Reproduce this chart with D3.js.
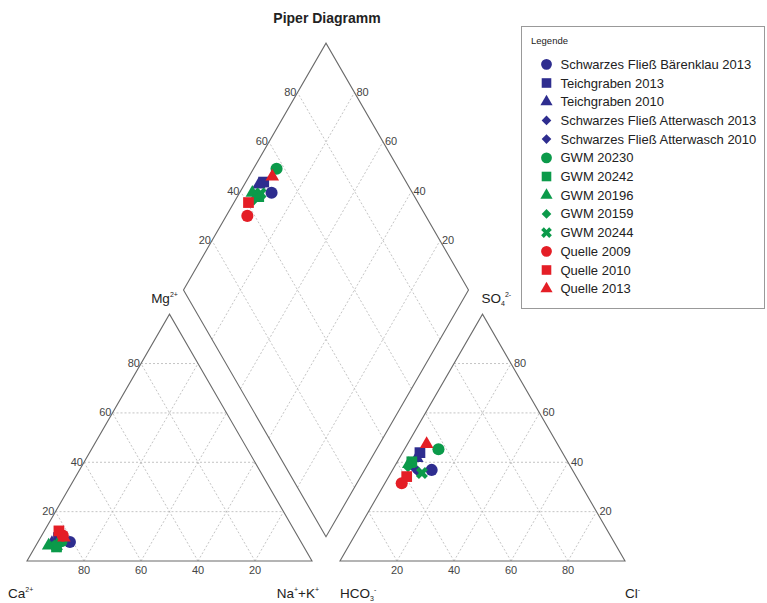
<!DOCTYPE html>
<html>
<head>
<meta charset="utf-8">
<script src="https://cdn.jsdelivr.net/npm/d3@7"></script>
<style>
  body { margin: 0; background: #fff; }
  svg { font-family: "Liberation Sans", Arial, sans-serif; }
</style>
</head>
<body>
<div id="chart"></div>
<script>
// sample names, symbol and colour per sample (legend order = draw order)
const samples = [
  "Schwarzes Fließ Bärenklau 2013", "Teichgraben 2013", "Teichgraben 2010",
  "Schwarzes Fließ Atterwasch 2013", "Schwarzes Fließ Atterwasch 2010",
  "GWM 20230", "GWM 20242", "GWM 20196", "GWM 20159", "GWM 20244",
  "Quelle 2009", "Quelle 2010", "Quelle 2013"
];
const shapes = ["circle", "square", "triangle", "diamond", "diamond",
  "circle", "square", "triangle", "diamond", "cross",
  "circle", "square", "triangle"];
const groups = ["blue", "blue", "blue", "blue", "blue",
  "green", "green", "green", "green", "green",
  "red", "red", "red"];

// cations, % meq
const ca  = [81.1, 84.2, 87.6, 86.6, 85.0, 83.9, 86.8, 89.3, 87.0, 86.5, 82.3, 82.7, 82.3];
const mg  = [ 7.7,  9.5,  7.3,  7.0,  8.0,  8.0,  5.7,  6.2,  6.5,  6.0, 10.3, 12.2,  9.5];
const nak = [11.2,  6.3,  5.1,  6.4,  7.0,  8.1,  7.5,  4.5,  6.5,  7.5,  7.4,  5.1,  8.2];
// anions, % meq
const hco3 = [49.4, 50.0, 52.2, 54.5, 55.0, 42.8, 54.7, 56.2, 57.1, 53.4, 62.6, 59.5, 45.9];
const so4  = [36.9, 43.9, 41.7, 36.2, 37.5, 45.3, 40.2, 39.3, 38.1, 35.7, 31.5, 34.2, 47.4];
const cl   = [13.7,  6.1,  6.1,  9.3,  7.5, 11.9,  5.1,  4.5,  4.8, 10.9,  5.9,  6.3,  6.7];

const gridTicks = [20, 40, 60, 80];

const colors = { blue: "#2e2d8f", green: "#0b9a4a", red: "#e41e26" };

const width = 767, height = 603;
const x0 = 27, side = 285, gap = 28, baseY = 561;
const H = side * Math.sqrt(3) / 2;
const ax0 = x0 + side + gap;
const Bx = x0 + side + gap / 2, By = baseY - gap * Math.sqrt(3) / 2;

// percent -> pixel along the triangle side / height
const sx = d3.scaleLinear().domain([0, 100]).range([0, side]);
const sy = d3.scaleLinear().domain([0, 100]).range([0, H]);

const cation = (m, n) => [x0 + sx(n) + sx(m) / 2, baseY - sy(m)];
const anion = (s, c) => [ax0 + sx(c) + sx(s) / 2, baseY - sy(s)];
// a = Ca+Mg, b = SO4+Cl
const diamond = (a, b) => [Bx + (sx(b) - sx(a)) / 2, By - sy(a) - sy(b)];

const svg = d3.select("#chart").append("svg")
  .attr("width", width).attr("height", height);

const line = d3.line();

// ---- grid ----
const grid = svg.append("g")
  .attr("fill", "none").attr("stroke", "#b5b5b5")
  .attr("stroke-width", 0.8).attr("stroke-dasharray", "2,2");

gridTicks.forEach(v => {
  // cation triangle: Mg = v, Na+K = v, Ca = v
  grid.append("path").attr("d", line([cation(v, 0), cation(v, 100 - v)]));
  grid.append("path").attr("d", line([cation(0, v), cation(100 - v, v)]));
  grid.append("path").attr("d", line([cation(0, 100 - v), cation(100 - v, 0)]));
  // anion triangle: SO4 = v, Cl = v, HCO3 = v
  grid.append("path").attr("d", line([anion(v, 0), anion(v, 100 - v)]));
  grid.append("path").attr("d", line([anion(0, v), anion(100 - v, v)]));
  grid.append("path").attr("d", line([anion(0, 100 - v), anion(100 - v, 0)]));
  // diamond
  grid.append("path").attr("d", line([diamond(v, 0), diamond(v, 100)]));
  grid.append("path").attr("d", line([diamond(0, v), diamond(100, v)]));
});

// ---- outlines ----
const outline = svg.append("g")
  .attr("fill", "none").attr("stroke", "#6a6a6a").attr("stroke-width", 1.1);
outline.append("path").attr("d", line([cation(0, 0), cation(0, 100), cation(100, 0)]) + "Z");
outline.append("path").attr("d", line([anion(0, 0), anion(0, 100), anion(100, 0)]) + "Z");
outline.append("path").attr("d", line([diamond(0, 0), diamond(100, 0), diamond(100, 100), diamond(0, 100)]) + "Z");

// ---- tick labels ----
const ticks = svg.append("g").attr("font-size", 11).attr("fill", "#444");
gridTicks.forEach(v => {
  let p = cation(v, 0);
  ticks.append("text").attr("x", p[0] - 1).attr("y", p[1]).attr("dy", "0.3em")
    .attr("text-anchor", "end").text(v);
  p = cation(0, 100 - v);
  ticks.append("text").attr("x", p[0]).attr("y", baseY + 13)
    .attr("text-anchor", "middle").text(v);
  p = anion(0, v);
  ticks.append("text").attr("x", p[0]).attr("y", baseY + 13)
    .attr("text-anchor", "middle").text(v);
  p = anion(v, 100 - v);
  ticks.append("text").attr("x", p[0] + 3).attr("y", p[1]).attr("dy", "0.3em")
    .attr("text-anchor", "start").text(v);
  p = diamond(100, v);
  ticks.append("text").attr("x", p[0] - 1).attr("y", p[1]).attr("dy", "0.3em")
    .attr("text-anchor", "end").text(v);
  p = diamond(v, 100);
  ticks.append("text").attr("x", p[0] + 2).attr("y", p[1]).attr("dy", "0.3em")
    .attr("text-anchor", "start").text(v);
});

// ---- corner labels ----
function ionLabel(x, y, anchor, parts) {
  const t = svg.append("text").attr("x", x).attr("y", y)
    .attr("text-anchor", anchor).attr("font-size", 13.5).attr("fill", "#222");
  parts.forEach(([txt, kind]) => {
    const sp = t.append("tspan").text(txt);
    if (kind === "sup") sp.attr("font-size", 7).attr("baseline-shift", "6");
    if (kind === "sub") sp.attr("font-size", 7).attr("baseline-shift", "-3");
  });
}
ionLabel(8, 598, "start", [["Ca"], ["2+", "sup"]]);
ionLabel(319, 598, "end", [["Na"], ["+", "sup"], ["+K"], ["+", "sup"]]);
ionLabel(x0 + side / 2 - 5, 303, "middle", [["Mg"], ["2+", "sup"]]);
ionLabel(ax0, 598, "start", [["HCO"], ["3", "sub"], ["-", "sup"]]);
ionLabel(ax0 + side, 598, "start", [["Cl"], ["-", "sup"]]);
ionLabel(ax0 + side / 2 - 1, 303, "start", [["SO"], ["4", "sub"], ["2-", "sup"]]);

// title
svg.append("text").attr("x", 327).attr("y", 23).attr("text-anchor", "middle")
  .attr("font-size", 14).attr("font-weight", "bold").attr("fill", "#222")
  .text("Piper Diagramm");

// ---- symbols ----
function symbolPath(shape, scale) {
  const k = scale || 1;
  if (shape === "circle") return d3.symbol(d3.symbolCircle, 115 * k)();
  if (shape === "square") return d3.symbol(d3.symbolSquare, 115 * k)();
  if (shape === "triangle") return d3.symbol(d3.symbolTriangle, 80 * k)();
  if (shape === "diamond") return d3.symbol(d3.symbolSquare, 58 * k)();
  return d3.symbol(d3.symbolCross, 90 * k)();
}
const rotate = shape => (shape === "diamond" || shape === "cross") ? " rotate(45)" : "";

const pts = samples.map((name, i) => ({
  name, shape: shapes[i], color: colors[groups[i]],
  c: cation(mg[i], nak[i]),
  a: anion(so4[i], cl[i]),
  d: diamond(ca[i] + mg[i], so4[i] + cl[i])
}));

["c", "a", "d"].forEach(key => {
  svg.append("g").selectAll("path")
    .data(pts)
    .join("path")
    .attr("d", d => symbolPath(d.shape))
    .attr("fill", d => d.color)
    .attr("transform", d => `translate(${d[key][0]},${d[key][1]})` + rotate(d.shape));
});

// ---- legend ----
const legend = svg.append("g");
legend.append("rect").attr("x", 521.5).attr("y", 26.5).attr("width", 243).attr("height", 282)
  .attr("fill", "#fff").attr("stroke", "#999");
legend.append("text").attr("x", 531).attr("y", 44).attr("font-size", 9.5).attr("fill", "#222")
  .text("Legende");
const rows = legend.selectAll("g.row").data(pts).join("g")
  .attr("class", "row")
  .attr("transform", (d, i) => `translate(546.5,${64.3 + i * 18.7})`);
rows.append("path")
  .attr("d", d => symbolPath(d.shape, 0.8))
  .attr("fill", d => d.color)
  .attr("transform", d => rotate(d.shape).trim());
rows.append("text").attr("x", 14).attr("dy", "0.35em")
  .attr("font-size", 13).attr("fill", "#222")
  .text(d => d.name);
</script>
</body>
</html>
